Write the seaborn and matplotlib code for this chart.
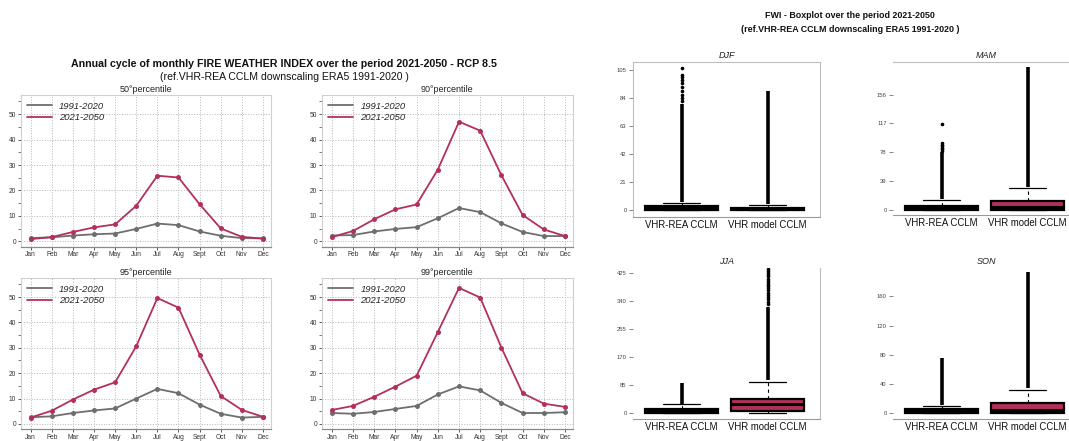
import numpy as np
import pandas as pd
import matplotlib
matplotlib.use("Agg")
import matplotlib.pyplot as plt
from matplotlib.ticker import MultipleLocator
import seaborn as sns

# ---------------- data ----------------
months = ["Jan", "Feb", "Mar", "Apr", "May", "Jun", "Jul", "Aug", "Sept", "Oct", "Nov", "Dec"]
periods = ["1991-2020", "2021-2050"]

p50_hist = [1.3, 1.6, 2.3, 2.8, 3.1, 4.9, 7.0, 6.4, 3.9, 2.2, 1.3, 1.2]
p50_fut = [0.9, 1.7, 3.7, 5.5, 6.7, 14.0, 25.8, 25.1, 14.6, 5.1, 1.8, 1.1]
p90_hist = [2.3, 2.5, 3.9, 4.9, 5.6, 9.1, 13.1, 11.5, 7.1, 3.7, 2.1, 2.1]
p90_fut = [1.7, 4.1, 8.7, 12.6, 14.5, 28.2, 47.0, 43.5, 26.0, 10.4, 4.7, 2.1]
p95_hist = [2.6, 3.0, 4.3, 5.3, 6.1, 10.0, 13.8, 12.1, 7.6, 4.0, 2.5, 2.8]
p95_fut = [2.5, 5.2, 9.6, 13.5, 16.4, 30.6, 49.6, 45.8, 27.3, 11.0, 5.5, 2.8]
p99_hist = [4.3, 4.0, 4.7, 5.9, 7.1, 11.6, 14.8, 13.2, 8.3, 4.3, 4.3, 4.6]
p99_fut = [5.5, 7.1, 10.7, 14.7, 19.0, 36.2, 53.6, 49.8, 30.1, 12.1, 8.0, 6.7]

percentile_titles = ["50°percentile", "90°percentile", "95°percentile", "99°percentile"]

# seasonal box summaries: q1, median, q3, lower whisker, upper whisker
box_groups = ["VHR-REA CCLM", "VHR model CCLM"]
seasons = ["DJF", "MAM", "JJA", "SON"]
djf_rea = [0.0, 0.8, 2.5, 0.0, 4.8]
djf_mod = [0.0, 0.5, 1.5, 0.0, 3.8]
mam_rea = [0.0, 2.0, 6.0, 0.0, 13.5]
mam_mod = [0.5, 4.5, 12.0, 0.0, 29.3]
jja_rea = [0.0, 5.0, 12.0, 0.0, 27.0]
jja_mod = [7.0, 28.0, 43.5, 0.0, 94.0]
son_rea = [0.0, 2.0, 5.5, 0.0, 10.5]
son_mod = [1.0, 4.5, 13.7, 0.0, 32.0]

# densely packed outliers (continuous range) and sparse outliers
djf_rea_dense = [5.5, 80.0]
djf_mod_dense = [4.5, 89.7]
mam_rea_dense = [15.0, 78.0]
mam_mod_dense = [31.0, 194.0]
jja_rea_dense = [29.0, 91.0]
jja_mod_dense = [100.0, 322.0]
son_rea_dense = [12.0, 75.4]
son_mod_dense = [34.0, 194.0]

djf_rea_out = [82.0, 84.0, 86.4, 89.7, 92.2, 95.2, 97.7, 99.7, 101.5, 107.0]
djf_mod_out = []
mam_rea_out = [80.0, 82.0, 84.0, 86.0, 88.0, 90.0, 116.0]
mam_mod_out = []
jja_rea_out = []
jja_mod_out = [330, 338, 345, 352, 358, 365, 372, 378, 384, 390, 396, 402, 408, 415, 420, 426, 432, 436]
son_rea_out = []
son_mod_out = []

season_ticks = {
    "DJF": [0, 21, 42, 63, 84, 105],
    "MAM": [0, 39, 78, 117, 156],
    "JJA": [0, 85, 170, 255, 340, 425],
    "SON": [0, 40, 80, 120, 160],
}
season_ylim = {"DJF": (-5.3, 111.5), "MAM": (-6.8, 200.6), "JJA": (-18.2, 440), "SON": (-8.2, 199)}

# ---------------- style ----------------
sns.set_theme(style="white")
plt.rcParams["font.family"] = ["Liberation Sans", "DejaVu Sans"]

GREY = "#6e6e6e"
CRIMSON = "#b3305d"
W, H = 1069, 441

fig = plt.figure(figsize=(W / 100, H / 100), dpi=100)


def px_axes(left, top, right, bottom):
    return fig.add_axes([left / W, 1 - bottom / H, (right - left) / W, (bottom - top) / H])


# ---------------- annual cycle panels ----------------
line_boxes = [
    (20.5, 95, 271, 246.5),
    (321.7, 95, 573, 246.5),
    (20.5, 278.0, 271, 429.0),
    (321.7, 278.0, 573, 429.0),
]
series = [(p50_hist, p50_fut), (p90_hist, p90_fut), (p95_hist, p95_fut), (p99_hist, p99_fut)]

for (l, t, r, b), (hist, fut), ttl in zip(line_boxes, series, percentile_titles):
    ax = px_axes(l, t, r, b)
    df = pd.DataFrame({
        "month": list(range(12)) * 2,
        "FWI": hist + fut,
        "period": [periods[0]] * 12 + [periods[1]] * 12,
    })
    sns.lineplot(data=df, x="month", y="FWI", hue="period", palette=[GREY, CRIMSON],
                 marker="o", markersize=3.6, markeredgewidth=0, linewidth=1.3, ax=ax)
    ax.set_xlim(-0.48, 11.38)
    ax.set_ylim(-2, 57.5)
    ax.set_xticks(range(12))
    ax.set_xticklabels(months)
    ax.yaxis.set_major_locator(MultipleLocator(10))
    ax.yaxis.set_minor_locator(MultipleLocator(5))
    ax.set_xlabel("")
    ax.set_ylabel("")
    ax.grid(True, which="major", linestyle=":", color="#b5b5b5", linewidth=0.7)
    ax.tick_params(axis="both", which="major", labelsize=4.8, length=2.5, width=0.6,
                   color="#444444", labelcolor="#333333", pad=0.8)
    ax.tick_params(axis="y", which="minor", length=2, width=0.5, color="#444444", left=True)
    ax.tick_params(axis="x", bottom=True)
    ax.tick_params(axis="y", left=True)
    for s in ["top", "right", "left"]:
        ax.spines[s].set_color("#d0d0d0")
        ax.spines[s].set_linewidth(0.8)
    ax.spines["bottom"].set_color("#8a8a8a")
    ax.spines["bottom"].set_linewidth(0.9)
    ax.set_title(ttl, fontsize=6.5, pad=2, color="#222222")
    leg = ax.legend(loc="upper left", frameon=False, fontsize=6.8, handlelength=2.6,
                    handletextpad=0.8, borderaxespad=0.3, labelspacing=0.25,
                    bbox_to_anchor=(0.0, 1.0))
    for txt in leg.get_texts():
        txt.set_fontstyle("italic")
    for h in leg.legend_handles:
        h.set_marker("")

fig.text(284 / W, 1 - 64 / H,
         "Annual cycle of monthly FIRE WEATHER INDEX over the period 2021-2050 - RCP 8.5",
         ha="center", va="center", fontsize=7.7, fontweight="bold", color="#111111")
fig.text(284 / W, 1 - 77 / H, "(ref.VHR-REA CCLM downscaling ERA5 1991-2020 )",
         ha="center", va="center", fontsize=7.6, color="#111111")

# ---------------- seasonal boxplots ----------------
box_rects = {
    "DJF": (633, 61.7, 820, 216.7),
    "MAM": (893, 61.7, 1080, 215.0),
    "JJA": (633, 268.0, 820, 419.3),
    "SON": (893, 268.0, 1080, 419.3),
}
summaries = {
    "DJF": (djf_rea, djf_mod, djf_rea_dense, djf_mod_dense, djf_rea_out, djf_mod_out),
    "MAM": (mam_rea, mam_mod, mam_rea_dense, mam_mod_dense, mam_rea_out, mam_mod_out),
    "JJA": (jja_rea, jja_mod, jja_rea_dense, jja_mod_dense, jja_rea_out, jja_mod_out),
    "SON": (son_rea, son_mod, son_rea_dense, son_mod_dense, son_rea_out, son_mod_out),
}
visible_spines = {
    "DJF": ["top", "right", "left", "bottom"],
    "MAM": ["top", "bottom"],
    "JJA": ["right", "bottom"],
    "SON": ["bottom"],
}

for season in seasons:
    ax = px_axes(*box_rects[season])
    rea, mod, rea_d, mod_d, rea_o, mod_o = summaries[season]
    stats = []
    for name, s, out in [(box_groups[0], rea, rea_o), (box_groups[1], mod, mod_o)]:
        stats.append(dict(label=name, q1=s[0], med=s[1], q3=s[2], whislo=s[3], whishi=s[4],
                          fliers=np.array(out, dtype=float)))
    bp = ax.bxp(stats, positions=[0, 1], widths=0.85, patch_artist=True, showfliers=True,
                boxprops=dict(edgecolor="black", linewidth=1.6),
                medianprops=dict(color="black", linewidth=2.2),
                whiskerprops=dict(color="black", linewidth=0.8, linestyle=(0, (3, 3))),
                capprops=dict(color="black", linewidth=0.9),
                flierprops=dict(marker="o", markersize=1.6, markerfacecolor="black",
                                markeredgecolor="black", linestyle="none"))
    bp["boxes"][0].set_facecolor("black")
    bp["boxes"][1].set_facecolor(CRIMSON)
    for pos, dense in [(0, rea_d), (1, mod_d)]:
        ax.vlines(pos, dense[0], dense[1], color="black", linewidth=2.6, zorder=3)
    ax.set_xlim(-0.564, 1.61)
    ax.set_ylim(*season_ylim[season])
    ax.set_yticks(season_ticks[season])
    ax.tick_params(axis="y", left=True, labelsize=4.2, length=3, width=0.5,
                   color="#555555", labelcolor="#444444", pad=1.5)
    ax.tick_params(axis="x", bottom=False, length=0, labelsize=6.9, pad=2.2, labelcolor="#111111")
    for s in ["top", "right", "left", "bottom"]:
        if s in visible_spines[season]:
            ax.spines[s].set_color("#bdbdbd" if s != "bottom" else "#9a9a9a")
            ax.spines[s].set_linewidth(0.8)
        else:
            ax.spines[s].set_visible(False)
    ax.grid(False)
    ax.set_title(season, fontsize=6.5, fontstyle="italic", pad=3, color="#222222")

fig.text(850 / W, 1 - 15 / H, "FWI - Boxplot over the period 2021-2050",
         ha="center", va="center", fontsize=6.4, fontweight="bold", color="#111111")
fig.text(850 / W, 1 - 29 / H, "(ref.VHR-REA CCLM downscaling ERA5 1991-2020 )",
         ha="center", va="center", fontsize=6.4, fontweight="bold", color="#111111")

fig.savefig("out.png", dpi=100, facecolor="white")
